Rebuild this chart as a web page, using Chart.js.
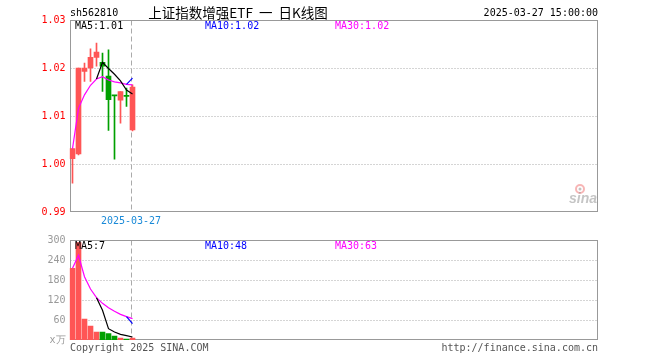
<!DOCTYPE html>
<html>
<head>
<meta charset="utf-8">
<script src="https://cdn.jsdelivr.net/npm/chart.js@4.4.1/dist/chart.umd.min.js"></script>
<style>
body { margin: 0; background: #fff; }
#wrap { position: relative; width: 660px; height: 360px; }
canvas { position: absolute; left: 0; }
</style>
</head>
<body>
<div id="wrap">
  <canvas id="kline" width="660" height="230" style="top:0"></canvas>
  <canvas id="vol" width="660" height="130" style="top:230px"></canvas>
</div>
<script>
// daily candles
var dates = ['2025-03-13','2025-03-14','2025-03-17','2025-03-18','2025-03-19','2025-03-20',
             '2025-03-21','2025-03-24','2025-03-25','2025-03-26','2025-03-27'];
var openP  = [1.0011, 1.0021, 1.0193, 1.0200, 1.0222, 1.0212, 1.0183, 1.0143, 1.0133, 1.0143, 1.0071];
var closeP = [1.0032, 1.0200, 1.0200, 1.0222, 1.0233, 1.0204, 1.0134, 1.0142, 1.0151, 1.0141, 1.0160];
var highP  = [1.0032, 1.0200, 1.0210, 1.0240, 1.0252, 1.0231, 1.0238, 1.0143, 1.0151, 1.0158, 1.0165];
var lowP   = [0.9960, 1.0019, 1.0172, 1.0172, 1.0204, 1.0151, 1.0070, 1.0010, 1.0085, 1.0120, 1.0069];

var ma5  = [null, null, null, null, 1.0177, 1.0212, 1.0199, 1.0187, 1.0173, 1.0154, 1.0146];
var ma10 = [null, null, null, null, null, null, null, null, null, 1.0166, 1.0179];
var ma30 = [1.0032, 1.0116, 1.0144, 1.0164, 1.0177, 1.0182, 1.0175, 1.0171, 1.0169, 1.0166, 1.0165];

// volume, 万
var volume  = [215, 292, 63, 42, 24, 24, 19, 12, 6, 3, 6];
var volMa5  = [null, null, null, null, 127, 89, 34, 24, 17, 13, 9];
var volMa10 = [null, null, null, null, null, null, null, null, null, 70, 49];
var volMa30 = [215, 254, 190, 153, 127, 110, 97, 86, 77, 70, 64];

var priceTicks = [0.99, 1.00, 1.01, 1.02, 1.03];
var volTicks = [0, 60, 120, 180, 240, 300];
var markDate = '2025-03-27';

var SLOTS = 88;
var MONO = '"DejaVu Sans Mono", "Liberation Mono", monospace';
var upColor = '#ff5555', downColor = '#00a000';

var labels = dates.concat(new Array(SLOTS - dates.length).fill(''));
var candleColors = openP.map(function (o, i) { return closeP[i] >= o ? upColor : downColor; });
var bodies = openP.map(function (o, i) { return [o, closeP[i]]; });
var wicks = lowP.map(function (l, i) { return [l, highP[i]]; });

function frameBox(a) {
  return {
    x1: Math.round(a.left) + 0.5, x2: Math.floor(a.right) + 0.5,
    y1: Math.round(a.top) + 0.5, y2: Math.round(a.bottom) - 0.5
  };
}

function drawBack(chart, ticks) {
  var ctx = chart.ctx, b = frameBox(chart.chartArea);
  var ys = chart.scales.y, xs = chart.scales.x;
  ctx.save();
  ctx.lineWidth = 1;
  ctx.strokeStyle = '#aaa';
  ctx.setLineDash([1, 2]);
  ticks.slice(1, ticks.length - 1).forEach(function (v) {
    var y = Math.round(ys.getPixelForValue(v)) + 0.5;
    ctx.beginPath(); ctx.moveTo(b.x1, y); ctx.lineTo(b.x2, y); ctx.stroke();
  });
  // dashed marker at the last day
  var mx = Math.round(xs.getPixelForValue(dates.indexOf(markDate))) - 2 + 0.5;
  ctx.setLineDash([5, 3]);
  ctx.beginPath(); ctx.moveTo(mx, b.y1); ctx.lineTo(mx, b.y2); ctx.stroke();
  ctx.setLineDash([]);
  ctx.strokeStyle = '#999';
  ctx.strokeRect(b.x1, b.y1, b.x2 - b.x1, b.y2 - b.y1);
  ctx.restore();
}

function txt(ctx, s, x, y, color, font, align) {
  ctx.fillStyle = color;
  ctx.font = font;
  ctx.textAlign = align || 'left';
  ctx.textBaseline = 'middle';
  ctx.fillText(s, x, y);
}

var klinePlugin = {
  id: 'klineDeco',
  beforeDatasetsDraw: function (chart) { drawBack(chart, priceTicks); },
  afterDraw: function (chart) {
    var ctx = chart.ctx, xs = chart.scales.x;
    var f = '10px ' + MONO;
    ctx.save();
    txt(ctx, 'sh562810', 70, 13, '#000', f);
    txt(ctx, '上证指数增强ETF  一  日K线图', 238, 13, '#000', '13.5px "Noto Sans CJK SC"', 'center');
    txt(ctx, '2025-03-27 15:00:00', 598, 13, '#000', f, 'right');
    txt(ctx, 'MA5:' + ma5[ma5.length - 1].toFixed(2), 75, 26, '#000', f);
    txt(ctx, 'MA10:' + ma10[ma10.length - 1].toFixed(2), 205, 26, '#0000ff', f);
    txt(ctx, 'MA30:' + ma30[ma30.length - 1].toFixed(2), 335, 26, '#ff00ff', f);
    var mx = Math.round(xs.getPixelForValue(dates.indexOf(markDate))) - 2;
    txt(ctx, markDate, mx, 221, '#1a8ad8', f, 'center');
    // sina logo
    ctx.strokeStyle = 'rgba(240,120,120,0.55)';
    ctx.lineWidth = 2;
    ctx.beginPath(); ctx.arc(580, 189, 4, 0, Math.PI * 2); ctx.stroke();
    ctx.fillStyle = 'rgba(120,120,120,0.45)';
    ctx.beginPath(); ctx.arc(580, 189, 1.5, 0, Math.PI * 2); ctx.fill();
    txt(ctx, 'sina', 597, 199, 'rgba(150,150,150,0.55)', 'italic bold 14px "Liberation Sans"', 'right');
    ctx.restore();
  }
};

var volPlugin = {
  id: 'volDeco',
  beforeDatasetsDraw: function (chart) { drawBack(chart, volTicks); },
  afterDraw: function (chart) {
    var ctx = chart.ctx;
    var f = '10px ' + MONO;
    ctx.save();
    txt(ctx, 'MA5:7', 75, 16.5, '#000', f);
    txt(ctx, 'MA10:48', 205, 16.5, '#0000ff', f);
    txt(ctx, 'MA30:63', 335, 16.5, '#ff00ff', f);
    txt(ctx, 'Copyright 2025 SINA.COM', 70, 118, '#555', f);
    txt(ctx, 'http://finance.sina.com.cn', 598, 118, '#555', f, 'right');
    ctx.restore();
  }
};

function lineSet(data, color) {
  return { type: 'line', data: data, borderColor: color, borderWidth: 1.2, pointRadius: 0,
           tension: 0, fill: false, spanGaps: false, order: 0 };
}

var common = {
  responsive: false, animation: false, devicePixelRatio: 1,
  plugins: { legend: { display: false }, tooltip: { enabled: false } }
};

new Chart(document.getElementById('kline'), {
  type: 'bar',
  data: {
    labels: labels,
    datasets: [
      lineSet(ma5, '#000'),
      lineSet(ma10, '#0000ff'),
      lineSet(ma30, '#ff00ff'),
      { data: bodies, backgroundColor: candleColors, barThickness: 5, minBarLength: 1,
        grouped: false, borderWidth: 0, order: 1 },
      { data: wicks, backgroundColor: candleColors, barThickness: 1,
        grouped: false, borderWidth: 0, order: 2 }
    ]
  },
  options: Object.assign({}, common, {
    layout: { padding: { left: 0, right: 62.5, top: 20, bottom: 18 } },
    scales: {
      x: { display: false, offset: true, grid: { display: false } },
      y: {
        min: 0.99, max: 1.03,
        afterBuildTicks: function (s) { s.ticks = priceTicks.map(function (v) { return { value: v }; }); },
        afterFit: function (s) { s.width = 69.5; },
        grid: { display: false, drawTicks: false },
        border: { display: false },
        ticks: { color: '#ff0000', padding: 4, font: { family: MONO, size: 10 },
                 callback: function (v) { return v.toFixed(2); } }
      }
    }
  }),
  plugins: [klinePlugin]
});

new Chart(document.getElementById('vol'), {
  type: 'bar',
  data: {
    labels: labels,
    datasets: [
      lineSet(volMa5, '#000'),
      lineSet(volMa10, '#0000ff'),
      lineSet(volMa30, '#ff00ff'),
      { data: volume, backgroundColor: candleColors, barThickness: 5,
        grouped: false, borderWidth: 0, order: 1 }
    ]
  },
  options: Object.assign({}, common, {
    layout: { padding: { left: 0, right: 62.5, top: 10, bottom: 20 } },
    scales: {
      x: { display: false, offset: true, grid: { display: false } },
      y: {
        min: 0, max: 300,
        afterBuildTicks: function (s) { s.ticks = volTicks.map(function (v) { return { value: v }; }); },
        afterFit: function (s) { s.width = 69.5; },
        grid: { display: false, drawTicks: false },
        border: { display: false },
        ticks: { color: '#999', padding: 4, font: { family: MONO, size: 10 },
                 callback: function (v) { return v === 0 ? 'x万' : v; } }
      }
    }
  }),
  plugins: [volPlugin]
});
</script>
</body>
</html>
